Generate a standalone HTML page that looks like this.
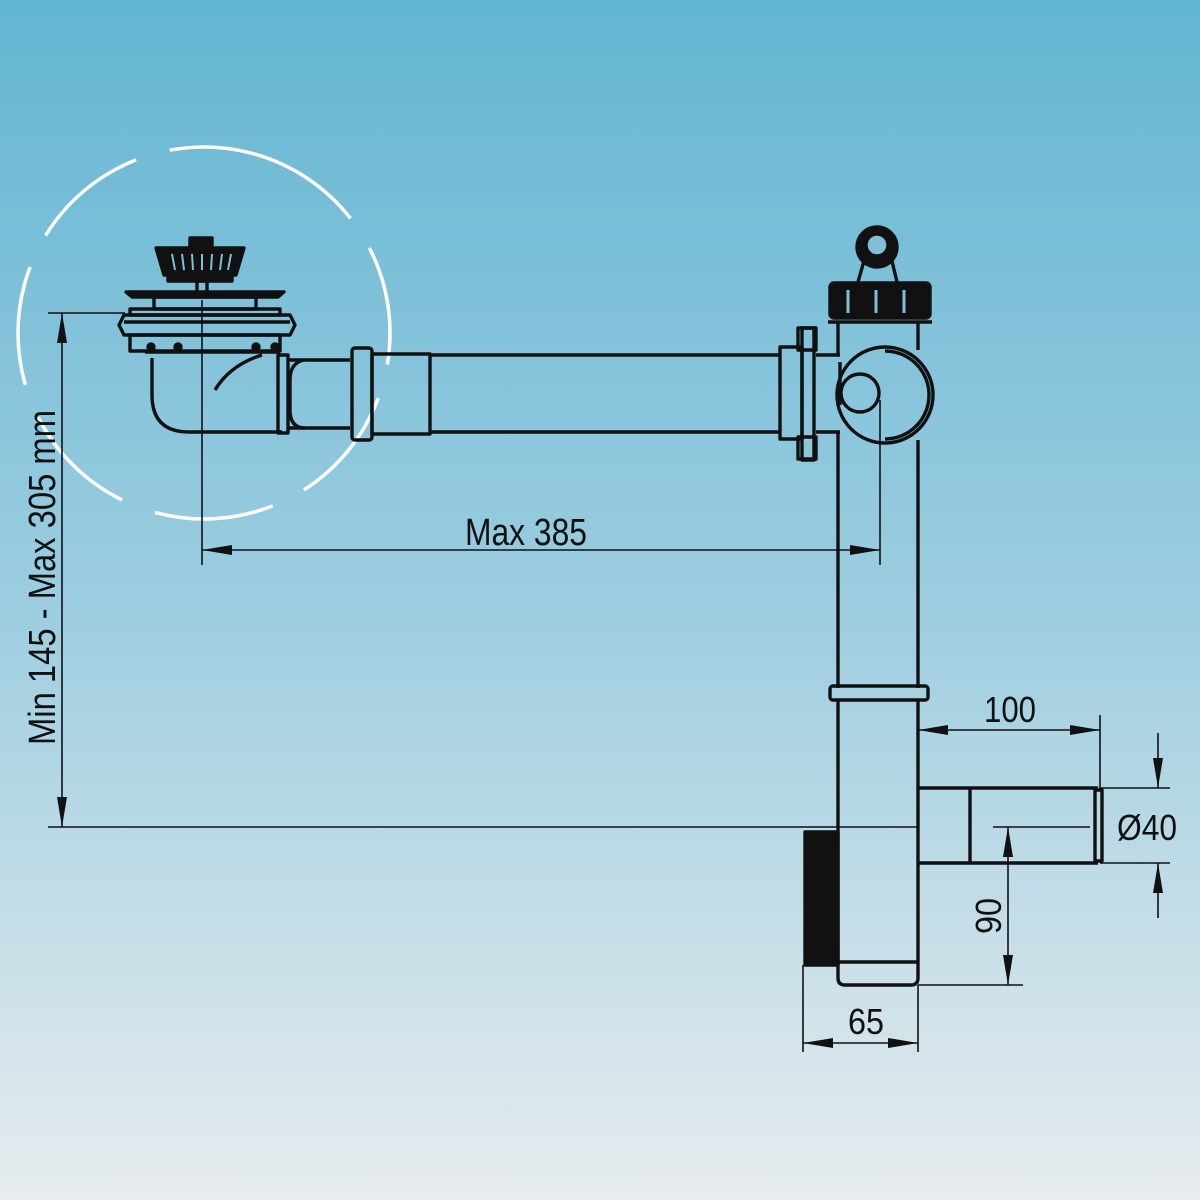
<!DOCTYPE html>
<html><head><meta charset="utf-8"><style>
html,body{margin:0;padding:0;width:1200px;height:1200px;overflow:hidden}
svg{display:block}
text{font-family:"Liberation Sans",sans-serif;fill:#111}
</style></head><body>
<svg width="1200" height="1200" viewBox="0 0 1200 1200" xmlns="http://www.w3.org/2000/svg">
<defs>
<linearGradient id="bg" x1="0" y1="0" x2="0" y2="1">
<stop offset="0" stop-color="#62b5d2"/>
<stop offset="0.5" stop-color="#9ccde0"/>
<stop offset="1" stop-color="#e7ecee"/>
</linearGradient>
<marker id="ar" viewBox="0 0 30 10" refX="30" refY="5" markerWidth="30" markerHeight="10" markerUnits="userSpaceOnUse" orient="auto-start-reverse">
<path d="M0,0 L30,5 L0,10 Z" fill="#111"/>
</marker>
</defs>
<rect width="1200" height="1200" fill="url(#bg)"/>

<!-- dashed circle -->
<circle cx="204" cy="333" r="186" fill="none" stroke="#fff" stroke-width="3.5" stroke-dasharray="120 35" transform="rotate(-75 204 333)"/>

<g fill="none" stroke="#111" stroke-width="3.4" stroke-linejoin="round">
<!-- strainer -->
<path d="M156,248 L244,248 L236,275 L164,275 Z" fill="#111"/>
<rect x="190" y="238" width="22" height="10" fill="#111"/>
<g stroke="#7fc0d8" stroke-width="2">
<line x1="172" y1="254" x2="175" y2="270"/><line x1="182" y1="254" x2="184" y2="270"/><line x1="192" y1="254" x2="193" y2="270"/><line x1="202" y1="254" x2="202" y2="270"/><line x1="212" y1="254" x2="211" y2="270"/><line x1="222" y1="254" x2="220" y2="270"/><line x1="231" y1="254" x2="228" y2="270"/>
</g>
<rect x="168" y="275" width="64" height="6" fill="#111"/>
<rect x="197" y="281" width="10" height="12"/>
<path d="M126,292 L284,292 L278,297 L132,297 Z" fill="#111"/>
<rect x="154" y="297" width="102" height="12"/>
<rect x="130" y="309" width="150" height="6"/>
<path d="M124,315 L290,315 L295,325 L290,335 L124,335 L119,325 Z"/>
<line x1="124" y1="322" x2="290" y2="322"/>
<rect x="130" y="335" width="150" height="16"/>
<circle cx="151" cy="347" r="3" fill="#111"/><circle cx="178" cy="347" r="3" fill="#111"/><circle cx="256" cy="347" r="3" fill="#111"/><circle cx="275" cy="347" r="3" fill="#111"/>
<path d="M152,358 L152,395 Q152,432 189,432 L282,432"/>
<path d="M145,352 L280,352"/>
<path d="M215,390 Q230,365 262,355"/>
<!-- elbow & pipe -->
<rect x="278" y="355" width="10" height="78"/>
<path d="M288,360 L350,360 M288,428 L350,428"/>
<path d="M305,360 Q290,362 290,380 L290,410 Q290,428 305,428"/>
<rect x="352" y="348" width="20" height="92" rx="3"/>
<rect x="372" y="354" width="58" height="80"/>
<path d="M430,355 L780,355 M430,432 L780,432"/>
<!-- nut -->
<rect x="780" y="347" width="22" height="92"/>
<rect x="802" y="328" width="12" height="132"/>
<rect x="798" y="328" width="18" height="22"/>
<rect x="798" y="437" width="18" height="22"/>
<path d="M816,355 L840,355 M816,432 L840,432"/>
<!-- trap top -->
<path d="M858,282 L870,240 M897,282 L887,240"/>
<circle cx="877" cy="247" r="20" fill="#111"/>
<circle cx="877" cy="245" r="11" fill="#7fc0d8"/>
<rect x="830" y="283" width="100" height="35" rx="4" fill="#111"/>
<g stroke="#7fc0d8" stroke-width="3"><line x1="848" y1="290" x2="848" y2="313"/><line x1="876" y1="290" x2="876" y2="313"/><line x1="904" y1="290" x2="904" y2="313"/></g>
<line x1="828" y1="322" x2="932" y2="322"/>
<path d="M838,322 L838,355 M918,322 L918,350"/>
<circle cx="885" cy="395" r="48"/>
<path d="M885,351 A44,44 0 0 1 885,439"/>
<circle cx="860" cy="393" r="19"/>
<line x1="840" y1="362" x2="840" y2="405"/>
<!-- vertical pipe -->
<path d="M838,432 L838,688 M918,440 L918,688"/>
<rect x="830" y="686" width="98" height="14" rx="3"/>
<path d="M838,700 L838,978 Q838,985 845,985 L911,985 Q918,985 918,978 L918,700"/>
<line x1="838" y1="962" x2="918" y2="962"/>
<path d="M805,832 L838,832 L838,965 L805,965 Z" fill="#111"/>
<!-- outlet -->
<path d="M918,788 L1098,788 M918,863 L1098,863"/>
<line x1="970" y1="788" x2="970" y2="863"/>
<rect x="1095" y="790" width="7" height="71"/>
</g>

<!-- dimension lines -->
<g stroke="#111" stroke-width="1.6" fill="none">
<line x1="48" y1="313" x2="125" y2="313"/>
<line x1="48" y1="827" x2="918" y2="827"/>
<line x1="62" y1="313" x2="62" y2="827" marker-start="url(#ar)" marker-end="url(#ar)"/>
<line x1="202" y1="300" x2="202" y2="565"/>
<line x1="880" y1="400" x2="880" y2="565"/>
<line x1="202" y1="550" x2="880" y2="550" marker-start="url(#ar)" marker-end="url(#ar)"/>
<line x1="1100" y1="715" x2="1100" y2="790"/>
<line x1="918" y1="730" x2="1100" y2="730" marker-start="url(#ar)" marker-end="url(#ar)"/>
<line x1="1100" y1="788" x2="1170" y2="788"/>
<line x1="1100" y1="863" x2="1170" y2="863"/>
<line x1="1158" y1="733" x2="1158" y2="788" marker-end="url(#ar)"/>
<line x1="1158" y1="918" x2="1158" y2="863" marker-end="url(#ar)"/>
<line x1="993" y1="827" x2="1090" y2="827"/>
<line x1="918" y1="985" x2="1023" y2="985"/>
<line x1="1008" y1="827" x2="1008" y2="985" marker-start="url(#ar)" marker-end="url(#ar)"/>
<line x1="803" y1="965" x2="803" y2="1052"/>
<line x1="918" y1="985" x2="918" y2="1052"/>
<line x1="803" y1="1043" x2="918" y2="1043" marker-start="url(#ar)" marker-end="url(#ar)"/>
</g>

<text x="465" y="545" font-size="38" textLength="122" lengthAdjust="spacingAndGlyphs">Max 385</text>
<text transform="translate(55,745) rotate(-90)" font-size="38" textLength="335" lengthAdjust="spacingAndGlyphs">Min 145 - Max 305 mm</text>
<text x="984" y="722" font-size="36" textLength="52" lengthAdjust="spacingAndGlyphs">100</text>
<text x="1117" y="840" font-size="36" textLength="60" lengthAdjust="spacingAndGlyphs">Ø40</text>
<text transform="translate(1001,934) rotate(-90)" font-size="36" textLength="36" lengthAdjust="spacingAndGlyphs">90</text>
<text x="848" y="1034" font-size="36" textLength="36" lengthAdjust="spacingAndGlyphs">65</text>
</svg>
</body></html>
